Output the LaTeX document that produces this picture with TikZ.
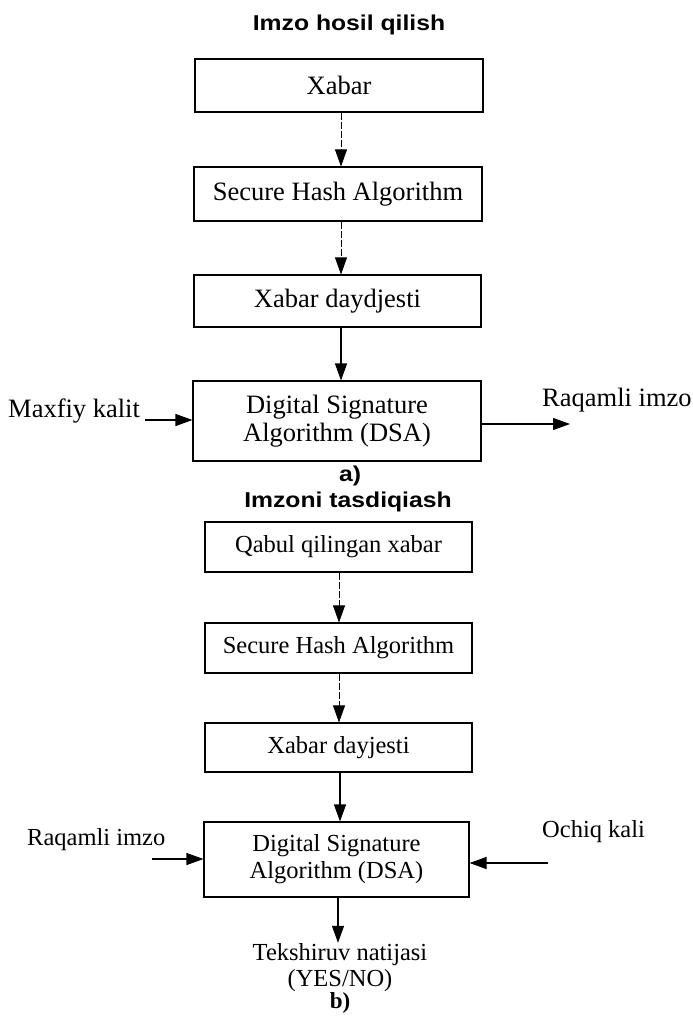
\documentclass[tikz,border=0pt]{standalone}
\usepackage{fontspec}
\setmainfont{Liberation Serif}
\newfontfamily\titlefont[FakeStretch=1.15]{Liberation Sans}
\usetikzlibrary{arrows.meta}
\tikzset{
  box/.style={draw, line width=1.1pt, inner sep=0pt, align=center, font=\fontsize{26.5}{28.5}\selectfont},
  boxb/.style={box, font=\fontsize{24.5}{27}\selectfont},
  lbl/.style={inner sep=0pt, align=center, font=\fontsize{26.5}{27}\selectfont},
  lblb/.style={lbl, font=\fontsize{24.5}{26}\selectfont},
  ttl/.style={inner sep=0pt, font=\titlefont\bfseries\fontsize{21.5}{24}\selectfont},
  arr/.style={-{Triangle[length=17pt,width=12pt]}, line width=1.1pt},
  farr/.style={arr, line width=0.7pt, dash pattern=on 7pt off 2pt}
}
\begin{document}
\begin{tikzpicture}[x=1pt,y=1pt]
\useasboundingbox (0,0) rectangle (693,-1018);
% ---------- part a
\node[ttl, anchor=base] (t1) at (349,-30) {Imzo hosil qilish};
\node[box, minimum width=288, minimum height=53] (xabar) at (339,-85.5) {Xabar};
\node[box, minimum width=288, minimum height=54] (sha1) at (338,-194) {Secure Hash Algorithm};
\node[box, minimum width=287, minimum height=52] (dig1) at (337.5,-301) {Xabar daydjesti};
\node[box, minimum width=288, minimum height=80] (dsa1) at (337,-421) {Digital Signature\\Algorithm (DSA)};
\node[lbl, anchor=base west] (mk) at (8,-417) {Maxfiy kalit};
\node[lbl, anchor=base west] (ri1) at (542,-406) {Raqamli imzo};
\coordinate (mks) at (145,-420);
\coordinate (rie) at (570,-424);
\node[ttl, anchor=base] (a) at (350,-481) {a)};
\draw[farr] (xabar.south -| 341,0) -- (sha1.north -| 341,0);
\draw[farr] (sha1.south -| 341,0) -- (dig1.north -| 341,0);
\draw[arr] (dig1.south -| 341,0) -- (dsa1.north -| 341,0);
\draw[arr] (mks) -- (dsa1.west |- mks);
\draw[arr] (dsa1.east |- rie) -- (rie);
% ---------- part b
\node[ttl, anchor=base] (t2) at (348,-507) {Imzoni tasdiqiash};
\node[boxb, minimum width=267, minimum height=50] (qabul) at (338.5,-547) {Qabul qilingan xabar};
\node[boxb, minimum width=267, minimum height=50] (sha2) at (338.5,-648) {Secure Hash Algorithm};
\node[boxb, minimum width=267, minimum height=49] (dig2) at (338.5,-747.5) {Xabar dayjesti};
\node[boxb, minimum width=265, minimum height=75] (dsa2) at (336.5,-859.5) {Digital Signature\\Algorithm (DSA)};
\node[lblb, anchor=base west] (ri2) at (27,-845) {Raqamli imzo};
\node[lblb, anchor=base west] (ok) at (542,-837) {Ochiq kali};
\coordinate (ris) at (152,-859);
\coordinate (oks) at (548,-863);
\node[lblb, anchor=base] (tek) at (340,-960) {Tekshiruv natijasi};
\node[lblb, anchor=base] (yn) at (340,-986) {(YES/NO)};
\node[lbl, anchor=base, font=\bfseries\fontsize{23}{24}\selectfont] (b) at (340,-1008) {b)};
\draw[farr] (qabul.south -| 339,0) -- (sha2.north -| 339,0);
\draw[farr] (sha2.south -| 339,0) -- (dig2.north -| 339,0);
\draw[arr] (dig2.south -| 340,0) -- (dsa2.north -| 340,0);
\draw[arr] (ris) -- (dsa2.west |- ris);
\draw[arr] (oks) -- (dsa2.east |- oks);
\draw[arr] (dsa2.south -| 338,0) -- (tek.north -| 338,0);
\end{tikzpicture}
\end{document}
